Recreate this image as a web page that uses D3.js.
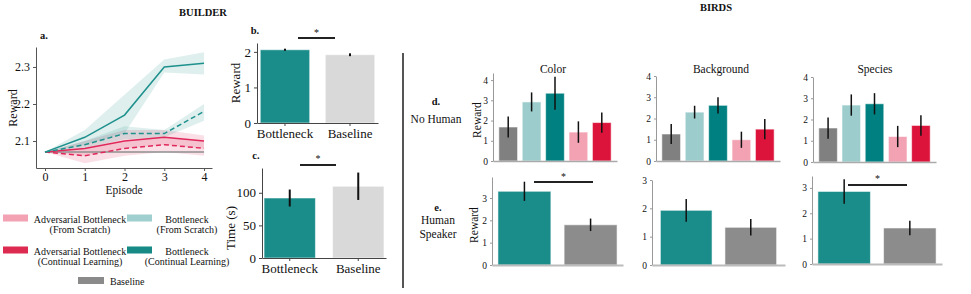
<!DOCTYPE html>
<html><head><meta charset="utf-8">
<script src="https://cdn.jsdelivr.net/npm/d3@7"></script>
<style>body{margin:0;background:#fff}svg{display:block}</style>
</head><body>
<svg id="c" width="971" height="294"></svg>
<script>
// ---------- DATA ----------
const episodes = [0, 1, 2, 3, 4];
const bnContMean = [2.07, 2.11, 2.17, 2.30, 2.31];
const bnContLo   = [2.07, 2.09, 2.12, 2.285, 2.28];
const bnContHi   = [2.07, 2.13, 2.225, 2.32, 2.34];
const bnScratchMean = [2.07, 2.09, 2.12, 2.12, 2.18];
const bnScratchLo   = [2.07, 2.08, 2.105, 2.11, 2.155];
const bnScratchHi   = [2.07, 2.10, 2.14, 2.13, 2.20];
const advContMean = [2.07, 2.08, 2.10, 2.11, 2.10];
const advContLo   = [2.07, 2.06, 2.08, 2.09, 2.08];
const advContHi   = [2.07, 2.10, 2.13, 2.13, 2.115];
const advScratchMean = [2.07, 2.06, 2.08, 2.09, 2.08];
const advScratchLo   = [2.07, 2.04, 2.06, 2.07, 2.06];
const advScratchHi   = [2.07, 2.08, 2.10, 2.11, 2.10];
const baselineMean = [2.07, 2.07, 2.07, 2.07, 2.07];
const lineTicks = [2.1, 2.2, 2.3];

const builderCats = ["Bottleneck", "Baseline"];
const rewardVals = [2.06, 1.92];
const rewardErr = [0.03, 0.04];
const rewardTicks = [0, 1, 2];
const timeVals = [92, 110];
const timeErr = [13, 21];
const timeTicks = [0, 50, 100];

const legendLabels = [
  ["Adversarial Bottleneck", "(From Scratch)"],
  ["Bottleneck", "(From Scratch)"],
  ["Adversarial Bottleneck", "(Continual Learning)"],
  ["Bottleneck", "(Continual Learning)"],
  ["Baseline"]
];

const birdTasks = ["Color", "Background", "Species"];
const noHumanConds = ["Baseline", "Bottleneck (From Scratch)", "Bottleneck (Continual Learning)",
                      "Adversarial Bottleneck (From Scratch)", "Adversarial Bottleneck (Continual Learning)"];
const noHumanColor = [1.68, 2.92, 3.35, 1.43, 1.90];
const noHumanColorErr = [0.52, 0.47, 0.82, 0.53, 0.50];
const noHumanBackground = [1.27, 2.30, 2.62, 1.00, 1.50];
const noHumanBackgroundErr = [0.47, 0.30, 0.38, 0.38, 0.48];
const noHumanSpecies = [1.60, 2.68, 2.74, 1.20, 1.72];
const noHumanSpeciesErr = [0.50, 0.50, 0.50, 0.50, 0.48];
const humanConds = ["Bottleneck", "Baseline"];
const humanColor = [3.30, 1.80];
const humanColorErr = [0.43, 0.28];
const humanBackground = [1.93, 1.33];
const humanBackgroundErr = [0.40, 0.29];
const humanSpecies = [2.86, 1.42];
const humanSpeciesErr = [0.48, 0.29];
const birdTicks4 = [0, 1, 2, 3, 4];
const birdTicks3 = [0, 1, 2, 3];

// ---------- STYLE ----------
const FONT = "'Liberation Serif','DejaVu Serif',serif";
const C = {
  teal: "#008080", lteal: "#9ccccc", pink: "#f2a2b3", crimson: "#dc143c", grey: "#808080",
  tealLine: "#1f918d", crimLine: "#e0275a", bTeal: "#1a8c89", bLight: "#d9d9d9", eGrey: "#8c8c8c"
};
const svg = d3.select("#c");
svg.append("rect").attr("width", 971).attr("height", 294).attr("fill", "#fff");

function txt(x, y, s, o = {}) {
  const t = svg.append("text").attr("x", x).attr("y", y).text(s)
    .attr("font-family", FONT).attr("font-size", o.size || 11)
    .attr("text-anchor", o.anchor || "middle").attr("dominant-baseline", "central")
    .attr("fill", o.fill || "#111");
  if (o.bold) t.attr("font-weight", "bold");
  if (o.rot) t.attr("transform", `rotate(-90,${x},${y})`);
  return t;
}
function styleAxis(g, col, fs, sw) {
  g.selectAll("path.domain").attr("stroke", col).attr("stroke-width", sw || 1);
  g.selectAll(".tick line").attr("stroke", col);
  g.selectAll(".tick text").attr("font-family", FONT).attr("font-size", fs).attr("fill", "#111");
}

// ---------- TITLES ----------
txt(203, 12, "BUILDER", {bold: true, size: 10.5});
txt(716, 7, "BIRDS", {bold: true, size: 10.5});

// ---------- PANEL a ----------
const ax = d3.scaleLinear().domain([-0.226, 4.2]).range([36, 212]);
const ay = d3.scaleLinear().domain([2.027, 2.354]).range([168, 47]);
const series = [
  {m: baselineMean, lo: null, hi: null, c: "#8f8f8f", dash: null},
  {m: advScratchMean, lo: advScratchLo, hi: advScratchHi, c: C.crimLine, dash: "5,3"},
  {m: advContMean, lo: advContLo, hi: advContHi, c: C.crimLine, dash: null},
  {m: bnScratchMean, lo: bnScratchLo, hi: bnScratchHi, c: C.tealLine, dash: "5,3"},
  {m: bnContMean, lo: bnContLo, hi: bnContHi, c: C.tealLine, dash: null}
];
const area = d3.area().x(d => ax(d.x)).y0(d => ay(d.lo)).y1(d => ay(d.hi));
const line = d3.line().x(d => ax(d.x)).y(d => ay(d.m));
series.forEach(s => {
  if (!s.lo) return;
  svg.append("path").datum(episodes.map((x, i) => ({x, lo: s.lo[i], hi: s.hi[i]})))
    .attr("d", area).attr("fill", s.c).attr("fill-opacity", 0.15);
});
series.forEach(s => {
  svg.append("path").datum(episodes.map((x, i) => ({x, m: s.m[i]})))
    .attr("d", line).attr("fill", "none").attr("stroke", s.c).attr("stroke-width", 1.5)
    .attr("stroke-dasharray", s.dash);
});
const gay = svg.append("g").attr("transform", "translate(36,0)")
  .call(d3.axisLeft(ay).tickValues(lineTicks).tickSize(3).tickSizeOuter(0).tickFormat(d3.format(".1f")));
styleAxis(gay, "#555", 12);
const gax = svg.append("g").attr("transform", "translate(0,168)")
  .call(d3.axisBottom(ax).tickValues(episodes).tickSize(3).tickSizeOuter(0).tickFormat(d3.format("d")));
styleAxis(gax, "#555", 12);
gax.selectAll(".tick text").attr("dy", "0.55em");
txt(13, 108, "Reward", {rot: true, size: 12});
txt(124, 190, "Episode", {size: 11.5});
txt(44, 35, "a.", {bold: true, size: 10.5});

// ---------- LEGEND ----------
const legColors = [C.pink, "#9fcfcf", "#dc2a50", "#178a86", "#8a8a8a"];
const legPos = [[3, 218, 80], [127, 218, 187], [3, 250, 80], [127, 250, 187]];
legendLabels.slice(0, 4).forEach((lab, i) => {
  const [sx, sy, tx] = legPos[i];
  svg.append("rect").attr("x", sx).attr("y", sy - 3.5).attr("width", 25).attr("height", 7).attr("fill", legColors[i]);
  txt(tx, sy + 1, lab[0], {size: 10});
  txt(tx, sy + 11, lab[1], {size: 10});
});
svg.append("rect").attr("x", 78).attr("y", 277).attr("width", 26).attr("height", 7).attr("fill", legColors[4]);
txt(110, 281, legendLabels[4][0], {size: 10, anchor: "start"});

// ---------- BAR PANEL HELPER ----------
function barPanel(o) {
  const x = d3.scaleBand().domain(o.cats).range([o.x0, o.x1]).paddingInner(o.pi).paddingOuter(o.po);
  const y = d3.scaleLinear().domain([0, o.ymax]).range([o.yb, o.yt]);
  o.cats.forEach((c, i) => {
    svg.append("rect").attr("x", x(c)).attr("y", y(o.vals[i])).attr("width", x.bandwidth())
      .attr("height", y(0) - y(o.vals[i])).attr("fill", o.colors[i])
      .attr("stroke", "rgba(255,255,255,0.55)").attr("stroke-width", 1);
  });
  o.cats.forEach((c, i) => {
    const cx = x(c) + x.bandwidth() / 2;
    svg.append("line").attr("x1", cx).attr("x2", cx)
      .attr("y1", y(o.vals[i] - o.errs[i])).attr("y2", y(o.vals[i] + o.errs[i]))
      .attr("stroke", "#111").attr("stroke-width", o.ew || 1.5);
  });
  const gy = svg.append("g").attr("transform", `translate(${o.x0},0)`)
    .call(d3.axisLeft(y).tickValues(o.ticks).tickSize(o.ts || 3).tickSizeOuter(0).tickFormat(d3.format("d")));
  styleAxis(gy, o.axCol, o.fs);
  const gx = svg.append("g").attr("transform", `translate(0,${o.yb})`)
    .call(d3.axisBottom(x).tickSize(o.xts || 0).tickSizeOuter(0));
  styleAxis(gx, o.bCol || o.axCol, o.xfs || o.fs, o.bw || 1);
  gx.selectAll(".tick line").attr("stroke", o.axCol);
  if (!o.showX) gx.selectAll(".tick text").remove();
  else gx.selectAll(".tick text").attr("dy", o.xdy || "0.9em");
  return {x, y};
}
function sig(xa, xb, yv, sy) {
  svg.append("line").attr("x1", xa).attr("x2", xb).attr("y1", yv).attr("y2", yv)
    .attr("stroke", "#222").attr("stroke-width", 1.8);
  txt((xa + xb) / 2, sy, "*", {size: 10});
}

// ---------- PANEL b ----------
barPanel({cats: builderCats, vals: rewardVals, errs: rewardErr, colors: [C.bTeal, C.bLight],
  x0: 257, x1: 378, yb: 123, yt: 43, ymax: 2.25, pi: 0.24, po: 0.05, ticks: rewardTicks,
  axCol: "#444", fs: 13, showX: true, xts: 3, xdy: "0.72em", ew: 2});
sig(298, 335, 38, 32);
txt(255, 30, "b.", {bold: true, size: 10.5});
txt(235, 83, "Reward", {rot: true, size: 13});

// ---------- PANEL c ----------
barPanel({cats: builderCats, vals: timeVals, errs: timeErr, colors: [C.bTeal, C.bLight],
  x0: 262, x1: 386, yb: 258, yt: 168, ymax: 138, pi: 0.25, po: 0.03, ticks: timeTicks,
  axCol: "#444", fs: 13, showX: true, xts: 3, xdy: "0.72em", ew: 2});
sig(300, 336, 165, 158);
txt(256, 155, "c.", {bold: true, size: 10.5});
txt(230, 228, "Time (s)", {rot: true, size: 13});

// ---------- DIVIDER ----------
svg.append("line").attr("x1", 403).attr("x2", 403).attr("y1", 53).attr("y2", 288)
  .attr("stroke", "#555").attr("stroke-width", 2);

// ---------- BIRDS d ----------
const dColors = [C.grey, C.lteal, C.teal, C.pink, C.crimson];
const dSpecs = [
  {vals: noHumanColor, errs: noHumanColorErr, x0: 493, x1: 617, yb: 161, yt: 73, ymax: 4.35, tx: 553},
  {vals: noHumanBackground, errs: noHumanBackgroundErr, x0: 656, x1: 780, yb: 161, yt: 76, ymax: 4.0, tx: 721},
  {vals: noHumanSpecies, errs: noHumanSpeciesErr, x0: 813, x1: 936, yb: 162, yt: 77, ymax: 4.0, tx: 875}
];
dSpecs.forEach((s, k) => {
  barPanel({cats: noHumanConds, vals: s.vals, errs: s.errs, colors: dColors,
    x0: s.x0, x1: s.x1, yb: s.yb, yt: s.yt, ymax: s.ymax, pi: 0.2, po: 0.25, ticks: birdTicks4,
    axCol: "#999", bCol: "#aaa", bw: 1.5, fs: 9.5, ts: 2, showX: false});
  txt(s.tx, 69, birdTasks[k], {size: 11.5});
});
txt(477, 120, "Reward", {rot: true, size: 11.5});
txt(436, 101, "d.", {bold: true, size: 10.5});
txt(436, 119, "No Human", {size: 11.5});

// ---------- BIRDS e ----------
const eColors = [C.bTeal, C.eGrey];
const eSpecs = [
  {vals: humanColor, errs: humanColorErr, x0: 492, x1: 623, yb: 265, yt: 177, ymax: 3.94, po: 0.09, sig: [534, 593, 182, 176]},
  {vals: humanBackground, errs: humanBackgroundErr, x0: 652, x1: 785, yb: 265, yt: 180, ymax: 3.0, po: 0.13, sig: null},
  {vals: humanSpecies, errs: humanSpeciesErr, x0: 812, x1: 942, yb: 264, yt: 176, ymax: 3.47, po: 0.09, sig: [848, 907, 185, 178]}
];
eSpecs.forEach(s => {
  barPanel({cats: humanConds, vals: s.vals, errs: s.errs, colors: eColors,
    x0: s.x0, x1: s.x1, yb: s.yb, yt: s.yt, ymax: s.ymax, pi: 0.2, po: s.po, ticks: birdTicks3,
    axCol: "#999", bCol: "#bbb", bw: 2, fs: 9.5, ts: 2, showX: false});
  if (s.sig) sig(...s.sig);
});
txt(474, 225, "Reward", {rot: true, size: 11.5});
txt(438, 207, "e.", {bold: true, size: 10.5});
txt(438, 220, "Human", {size: 11.5});
txt(438, 234, "Speaker", {size: 11.5});
</script>
</body></html>
